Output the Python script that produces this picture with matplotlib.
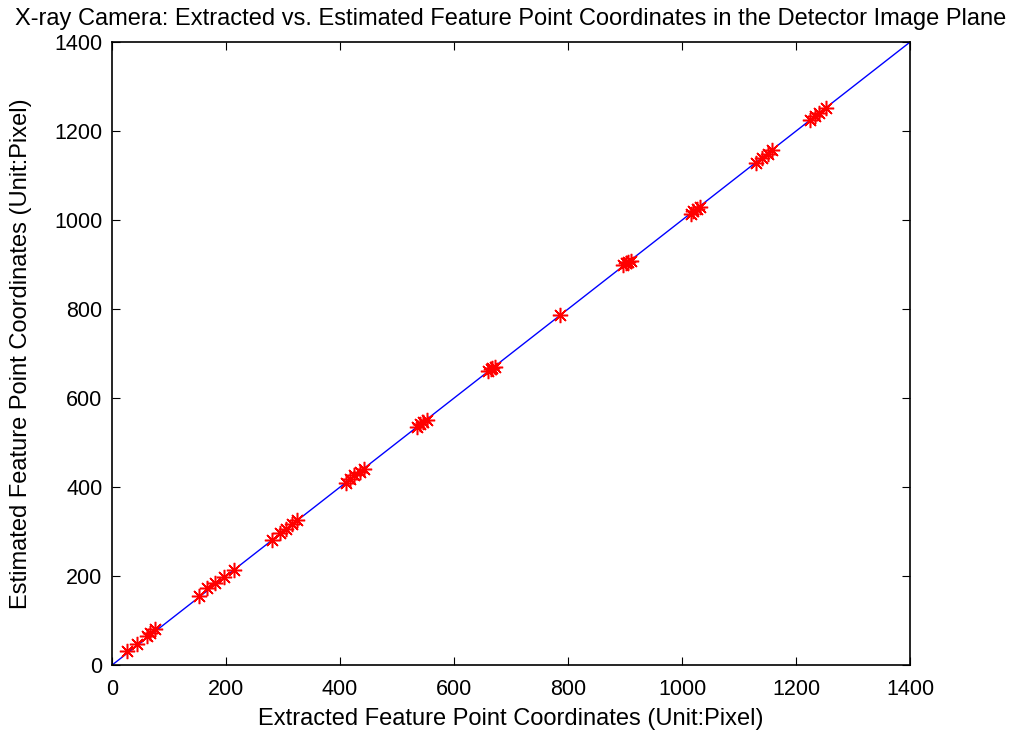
import matplotlib.pyplot as plt
import numpy as np

plt.rcParams['font.family'] = ['Liberation Sans', 'DejaVu Sans']

# extracted (x) vs estimated (y) feature point coordinates, in pixels
extracted = [26, 44, 61, 67, 75,
             153, 167, 181, 196, 214,
             280, 295, 305, 315, 325,
             410, 418, 425, 435, 442,
             535, 540, 545, 552,
             785,
             660, 664, 667, 671,
             897, 902, 906, 910,
             1015, 1020, 1026, 1031,
             1130, 1141, 1150, 1158,
             1225, 1234, 1240, 1252]
estimated = [32, 48, 66, 72, 82,
             156, 172, 184, 197, 213,
             282, 297, 306, 317, 326,
             409, 419, 426, 434, 440,
             534, 541, 546, 551,
             786,
             661, 665, 668, 670,
             898, 903, 905, 909,
             1014, 1021, 1025, 1030,
             1129, 1140, 1149, 1157,
             1224, 1235, 1241, 1251]
line_x = [0, 1400]

fig = plt.figure(figsize=(10.1, 7.32), dpi=100)
ax = fig.add_axes([0.111, 0.0915, 0.790, 0.851])

ax.plot(line_x, line_x, color='blue', linewidth=1)
ax.plot(extracted, estimated, linestyle='none', marker=(8, 2, 0),
        markersize=11, markeredgewidth=1.1, color='red')

ax.set_xlim(0, 1400)
ax.set_ylim(0, 1400)
ax.set_xticks(np.arange(0, 1401, 200))
ax.set_yticks(np.arange(0, 1401, 200))
ax.tick_params(direction='in', top=True, right=True, labelsize=15.5, length=6, pad=7)
ax.tick_params(axis='x', pad=10)
for s in ax.spines.values():
    s.set_linewidth(1.2)

ax.set_xlabel('Extracted Feature Point Coordinates (Unit:Pixel)', fontsize=17, labelpad=6)
ax.set_ylabel('Estimated Feature Point Coordinates (Unit:Pixel)', fontsize=17, labelpad=16)
ax.set_title('X-ray Camera: Extracted vs. Estimated Feature Point Coordinates in the Detector Image Plane',
             fontsize=17, pad=12)

fig.savefig('out.png', dpi=100)
